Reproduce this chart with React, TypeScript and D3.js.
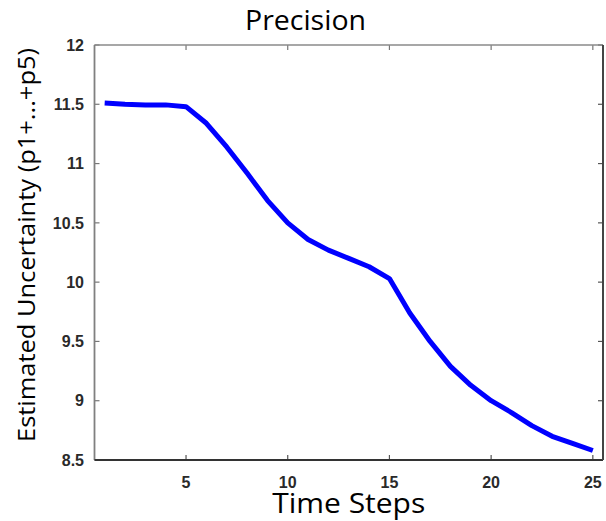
import React from "react";
import * as d3 from "d3";

const timeSteps = d3.range(1, 26);
const uncertainty = [
  11.51, 11.5, 11.495, 11.495, 11.48, 11.34, 11.14, 10.92, 10.69, 10.5,
  10.36, 10.27, 10.2, 10.13, 10.03, 9.74, 9.5, 9.29, 9.13, 9.0,
  8.9, 8.79, 8.7, 8.64, 8.58,
];
const xTicks = [5, 10, 15, 20, 25];
const yTicks = [8.5, 9, 9.5, 10, 10.5, 11, 11.5, 12];
const yTickLabels = ["8.5", "9", "9.5", "10", "10.5", "11", "11.5", "12"];
const title = "Precision";
const xLabel = "Time Steps";
const yLabel = "Estimated Uncertainty (p1+...+p5)";

const W = 606;
const H = 521;
const L = 94.5, R = 603, T = 45, B = 460;

export default function App() {
  const x = d3.scaleLinear().domain([0.5, 25.5]).range([L, R]);
  const y = d3.scaleLinear().domain([8.5, 12]).range([B, T]);
  const line = d3
    .line<number>()
    .x((_, i) => x(timeSteps[i]))
    .y((d) => y(d));
  const tickFont = "'Liberation Sans', Arial, sans-serif";
  const labelFont = "'Open Sans', 'Noto Sans', sans-serif";
  const tickLen = 5;
  return (
    <svg
      width={W}
      height={H}
      style={{ position: "absolute", left: 0, top: 0, background: "#fff" }}
    >
      <rect x={0} y={0} width={W} height={H} fill="#fff" />
      {/* ticks */}
      {xTicks.map((t) => (
        <g key={"xt" + t}>
          <line x1={x(t)} x2={x(t)} y1={B} y2={B - tickLen} stroke="#555" strokeWidth={1.2} />
          <line x1={x(t)} x2={x(t)} y1={T} y2={T + tickLen} stroke="#777" strokeWidth={1.2} />
          <text
            x={x(t)}
            y={488}
            textAnchor="middle"
            fontFamily={tickFont}
            fontWeight="bold"
            fontSize={16}
            fill="#2a2a2a"
          >
            {t}
          </text>
        </g>
      ))}
      {yTicks.map((t, i) => (
        <g key={"yt" + t}>
          <line x1={L} x2={L + tickLen} y1={y(t)} y2={y(t)} stroke="#777" strokeWidth={1.2} />
          <line x1={R} x2={R - tickLen} y1={y(t)} y2={y(t)} stroke="#555" strokeWidth={1.2} />
          <text
            x={84}
            y={y(t)}
            dy="0.36em"
            textAnchor="end"
            fontFamily={tickFont}
            fontWeight="bold"
            fontSize={16}
            fill="#2a2a2a"
          >
            {yTickLabels[i]}
          </text>
        </g>
      ))}
      {/* frame */}
      <line x1={L} x2={R} y1={T} y2={T} stroke="#8a8a8a" strokeWidth={1.5} />
      <line x1={L} x2={L} y1={T} y2={B} stroke="#808080" strokeWidth={1.8} />
      <line x1={L} x2={R} y1={B} y2={B} stroke="#333" strokeWidth={2.2} />
      <line x1={R} x2={R} y1={T} y2={B} stroke="#444" strokeWidth={2} />
      {/* data */}
      <path
        d={line(uncertainty) || ""}
        fill="none"
        stroke="#0000ff"
        strokeWidth={5}
        strokeLinejoin="round"
        strokeLinecap="butt"
      />
      {/* labels */}
      <text
        x={245}
        y={30}
        fontFamily={labelFont}
        fontSize={28}
        fill="#000"
        textLength={121}
        lengthAdjust="spacingAndGlyphs"
      >
        {title}
      </text>
      <text
        x={(L + R) / 2}
        y={513}
        textAnchor="middle"
        fontFamily={labelFont}
        fontSize={28}
        fill="#000"
        textLength={153}
        lengthAdjust="spacingAndGlyphs"
      >
        {xLabel}
      </text>
      <text
        transform={`translate(35, 245) rotate(-90)`}
        textAnchor="middle"
        fontFamily={labelFont}
        fontSize={24}
        fill="#000"
        textLength={394}
        lengthAdjust="spacingAndGlyphs"
      >
        {yLabel}
      </text>
    </svg>
  );
}
